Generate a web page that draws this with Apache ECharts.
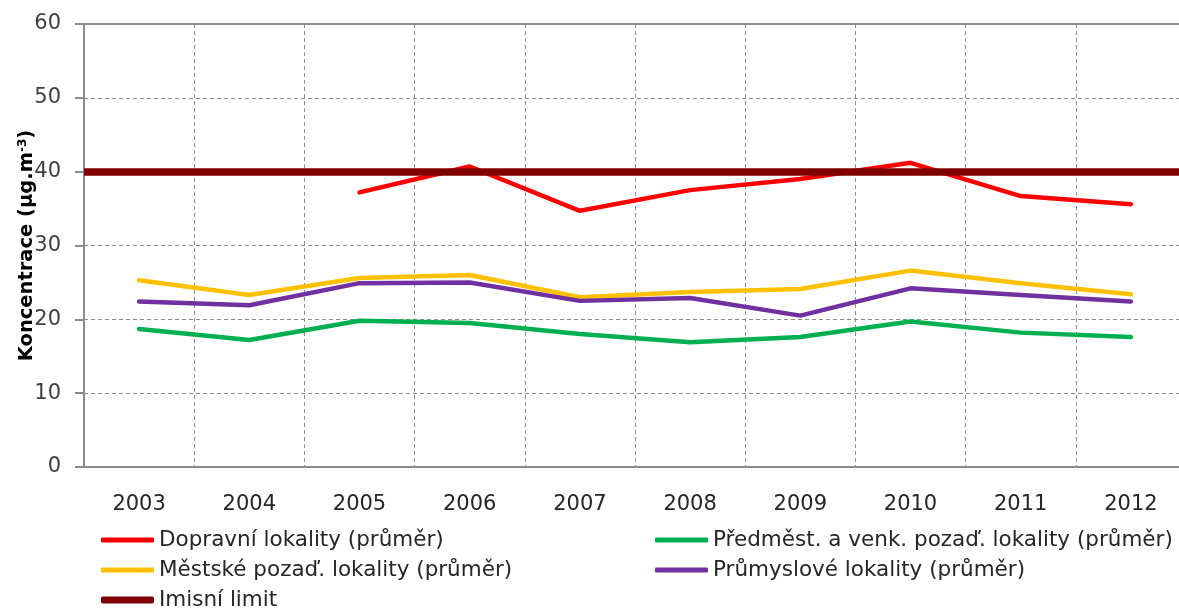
<!DOCTYPE html>
<html>
<head>
<meta charset="utf-8">
<script src="https://cdn.jsdelivr.net/npm/echarts@6/dist/echarts.min.js"></script>
<style>
html,body{margin:0;padding:0;background:#fff;}
#chart{width:1179px;height:610px;}
</style>
</head>
<body>
<div id="chart"></div>
<script>
const years = ['2003','2004','2005','2006','2007','2008','2009','2010','2011','2012'];
const dopravni = [null, null, 37.2, 40.7, 34.7, 37.5, 39.0, 41.2, 36.7, 35.6];
const mestske = [25.3, 23.3, 25.6, 26.0, 23.0, 23.7, 24.1, 26.6, 24.9, 23.4];
const predmest = [18.7, 17.2, 19.8, 19.5, 18.0, 16.9, 17.6, 19.7, 18.2, 17.6];
const prumyslove = [22.4, 21.9, 24.9, 25.0, 22.5, 22.9, 20.5, 24.2, 23.3, 22.4];
const LIMIT = 40;
const yTicks = [0, 10, 20, 30, 40, 50, 60];

const names = {
  dop: 'Dopravní lokality (průměr)',
  mes: 'Městské pozaď. lokality (průměr)',
  lim: 'Imisní limit',
  pre: 'Předměst. a venk. pozaď. lokality (průměr)',
  pru: 'Průmyslové lokality (průměr)'
};
const colors = {dop:'#FF0000', mes:'#FFC000', lim:'#800000', pre:'#00B050', pru:'#7030A0'};

function lineSeries(key, data) {
  return {
    name: names[key], type: 'line', data: data,
    showSymbol: false, symbol: 'none', connectNulls: false,
    color: colors[key],
    lineStyle: {color: colors[key], width: 4.5, cap: 'round', join: 'round'},
    emphasis: {disabled: true}, animation: false
  };
}

const FONT = 'DejaVu Sans';
const legendText = {fontFamily: FONT, fontSize: 21.5, color: '#262626', lineHeight: 24};

function legendItem(key, left, top, h) {
  return {
    orient: 'horizontal', left: left, top: top, itemWidth: 53, itemHeight: h,
    icon: 'roundRect', padding: 0,
    textStyle: legendText, data: [names[key]], selectedMode: false
  };
}

const chart = echarts.init(document.getElementById('chart'));
chart.setOption({
  animation: false,
  grid: {left: 84, top: 24, right: -7, bottom: 143, show: true, borderColor: '#8c8c8c', borderWidth: 2,
         containLabel: false, outerBoundsMode: 'none'},
  xAxis: {
    type: 'category', data: years, boundaryGap: true,
    axisLine: {show: true, lineStyle: {color: '#8c8c8c', width: 2}},
    axisTick: {show: false},
    axisLabel: {fontFamily: FONT, fontSize: 21, color: '#262626', margin: 27, interval: 0},
    splitLine: {show: true, interval: 0, lineStyle: {color: '#8c8c8c', width: 1, type: [4, 3]}}
  },
  yAxis: {
    type: 'value', min: yTicks[0], max: yTicks[yTicks.length - 1], interval: 10,
    name: '{a|Koncentrace (µg.m}{b|-3}{a|)}',
    nameLocation: 'middle', nameGap: 47, nameRotate: 90, nameMoveOverlap: false,
    nameTextStyle: {
      rich: {
        a: {fontFamily: FONT, fontSize: 19.5, fontWeight: 'bold', color: '#000'},
        b: {fontFamily: FONT, fontSize: 12, fontWeight: 'bold', color: '#000', verticalAlign: 'top', padding: [0, 0, 8, 0]}
      }
    },
    axisLine: {show: true, lineStyle: {color: '#8c8c8c', width: 2}},
    axisTick: {show: true, inside: false, length: 9, lineStyle: {color: '#8c8c8c', width: 2}},
    axisLabel: {fontFamily: FONT, fontSize: 21, color: '#404040', margin: 23},
    splitLine: {show: true, lineStyle: {color: '#8c8c8c', width: 1, type: [4, 3]}}
  },
  legend: [
    legendItem('dop', 101, 528, 5),
    legendItem('mes', 101, 558, 5),
    legendItem('lim', 101, 588, 7),
    legendItem('pre', 655, 528, 5),
    legendItem('pru', 655, 558, 5)
  ],
  series: [
    {
      name: names.lim, type: 'line', data: [], symbol: 'none', showSymbol: false,
      color: colors.lim,
      lineStyle: {color: colors.lim, width: 7, cap: 'round'},
      markLine: {
        silent: true, symbol: 'none', animation: false,
        label: {show: false},
        lineStyle: {color: colors.lim, width: 7.5, type: 'solid'},
        data: [{yAxis: LIMIT}]
      }
    },
    lineSeries('dop', dopravni),
    lineSeries('mes', mestske),
    lineSeries('pre', predmest),
    lineSeries('pru', prumyslove)
  ]
});
</script>
</body>
</html>
